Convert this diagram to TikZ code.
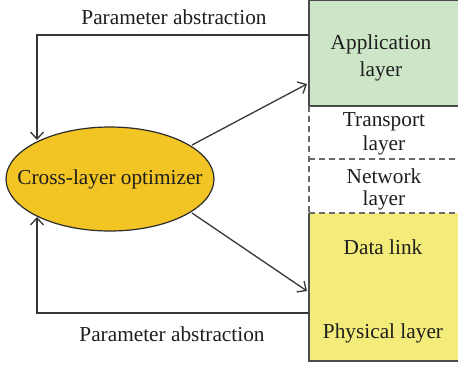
\documentclass[tikz,border=0pt]{standalone}
\usepackage{fontspec}
\setmainfont{Liberation Serif}
\usetikzlibrary{arrows.meta,shapes.geometric}
\definecolor{appgreen}{RGB}{205,230,200}
\definecolor{linkyellow}{RGB}{243,236,122}
\definecolor{optgold}{RGB}{242,196,36}
\definecolor{edge}{RGB}{55,55,55}
\definecolor{txt}{RGB}{30,30,30}
\tikzset{
  lbl/.style={font=\fontsize{21.3}{26}\selectfont, text=txt, align=center, inner sep=0pt},
  arr/.style={draw=edge, line width=1.3pt, -{Straight Barb[length=7pt,width=13pt,line width=1.3pt]}},
  dashln/.style={draw=edge!75, line width=1.4pt, dash pattern=on 6pt off 4pt},
}
\begin{document}
\begin{tikzpicture}[x=1pt,y=-1pt]
\useasboundingbox (0,0) rectangle (458,368);
% boxes
\fill[appgreen] (309,0) rectangle (462,106);
\draw[edge!90, line width=1.5pt] (462,0.7) -- (309,0.7) -- (309,106) -- (462,106);
\fill[linkyellow] (309,213) rectangle (462,361);
\draw[edge!90, line width=1.5pt] (309,213) -- (309,361) -- (462,361);
\draw[dashln] (309,106) -- (309,213);
\draw[dashln] (309,159) -- (462,159);
\draw[dashln] (309,213) -- (462,213);
% optimizer
\node[ellipse, draw=edge!80!black, line width=1.2pt, fill=optgold, minimum width=208pt, minimum height=104pt, inner sep=0pt] (opt) at (110,179) {};
\node[lbl] (optlbl) at (opt.center) {Cross-layer optimizer};
% layer labels
\node[lbl] (app) at (381,58) {Application\\[1pt]layer};
\node[lbl] (trans) at (384,134) {Transport\\[-2pt]layer};
\node[lbl] (net) at (384,189) {Network\\[-4pt]layer};
\node[lbl] (dl) at (383,247) {Data link};
\node[lbl] (phy) at (383,333) {Physical layer};
\node[lbl] (pa1) at (174,17) {Parameter abstraction};
\node[lbl] (pa2) at (172,334) {Parameter abstraction};
% connectors
\coordinate (ts) at (309,35);
\coordinate (tc) at (37,35);
\coordinate (te) at (37,140);
\coordinate (bs) at (309,313);
\coordinate (bc) at (37,313);
\coordinate (be) at (37,217);
\draw[arr] (ts) -- (tc) -- (te);
\draw[arr] (bs) -- (bc) -- (be);
\coordinate (o1) at (192,145);
\coordinate (a1) at (307,84);
\coordinate (o2) at (192,213);
\coordinate (a2) at (307,291);
\draw[arr] (o1) -- (a1);
\draw[arr] (o2) -- (a2);
\end{tikzpicture}
\end{document}
